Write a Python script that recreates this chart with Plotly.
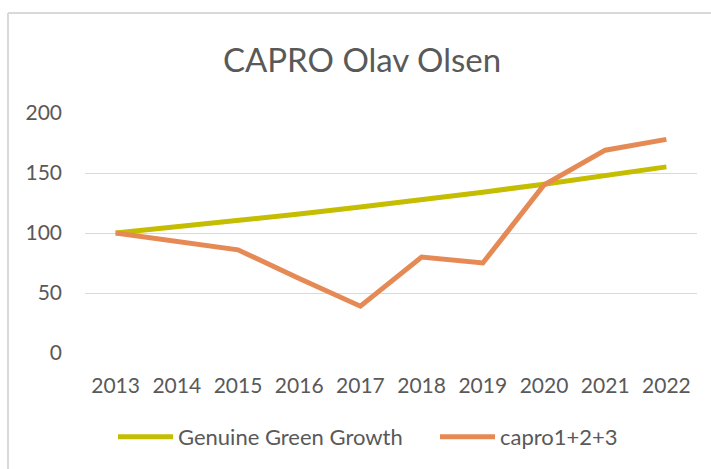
import plotly.graph_objects as go

years = ["2013", "2014", "2015", "2016", "2017", "2018", "2019", "2020", "2021", "2022"]
green_growth = [100, 105, 110.3, 115.8, 121.6, 127.6, 134.0, 140.7, 147.7, 155.1]
capro = [100, 93, 86, 62, 39, 80, 75, 140, 169, 178]

GREEN = "#C4BD00"
ORANGE = "#E68A55"
TXT = "#595959"
GRID = "#D9D9D9"
FONT = "Lato, Carlito, 'Open Sans', sans-serif"

fig = go.Figure()
fig.add_trace(go.Scatter(x=years, y=green_growth, mode="lines", name="Genuine Green Growth",
                         line=dict(color=GREEN, width=5), legend="legend"))
fig.add_trace(go.Scatter(x=years, y=capro, mode="lines", name="capro1+2+3",
                         line=dict(color=ORANGE, width=5), legend="legend2"))

L, R, T, B = 85, 14, 113, 116
W, H = 711, 469
pw, ph = W - L - R, H - T - B

leg_common = dict(orientation="h", xref="container", yref="container",
                  xanchor="left", y=1 - 437 / H, yanchor="middle",
                  font=dict(size=22, color=TXT), itemwidth=55,
                  bgcolor="rgba(0,0,0,0)")

fig.update_layout(
    width=W, height=H,
    margin=dict(l=L, r=R, t=T, b=B, autoexpand=False),
    paper_bgcolor="white", plot_bgcolor="white",
    font=dict(family=FONT, color=TXT, size=20),
    title=dict(text="CAPRO Olav Olsen", x=362 / W, xref="container", xanchor="center",
               y=1 - 60 / H, yref="container", yanchor="middle",
               font=dict(size=33, color=TXT, family=FONT)),
    showlegend=True,
    legend=dict(x=113 / W, **leg_common),
    legend2=dict(x=435 / W, **leg_common),
    xaxis=dict(type="category", range=[-0.5, 9.5], showgrid=False, showline=False,
               zeroline=False, automargin=False,
               ticks="", tickfont=dict(size=21, color=TXT), ticklabelstandoff=18),
    yaxis=dict(range=[0, 200], dtick=50, showgrid=True, gridcolor=GRID, gridwidth=1.3,
               zeroline=False, showline=False, ticks="", automargin=False,
               tickfont=dict(size=21, color=TXT), ticklabelstandoff=22),
)

# outer chart border (top and left visible)
x_left = (8 - L) / pw
y_top = (H - B - 13) / ph
fig.add_shape(type="line", xref="paper", yref="paper", x0=x_left, x1=(W + 5 - L) / pw,
              y0=y_top, y1=y_top, line=dict(color=GRID, width=2))
fig.add_shape(type="line", xref="paper", yref="paper", x0=x_left, x1=x_left,
              y0=y_top, y1=-(B + 5) / ph, line=dict(color=GRID, width=2))

fig.write_html("out.html", config={"displayModeBar": False},
               post_script="document.body.style.margin='0';document.body.style.overflow='hidden';")
